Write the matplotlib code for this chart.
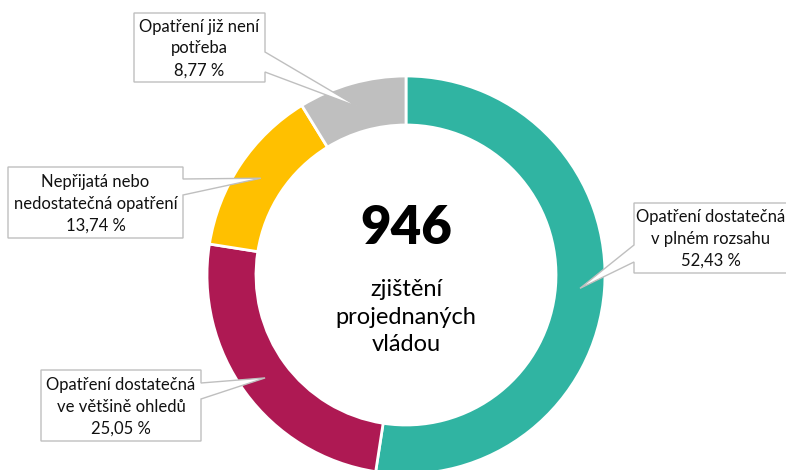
#!/usr/bin/env python3
"""Donut chart: stav opatření ke zjištěním projednaným vládou."""

import numpy as np
import matplotlib

matplotlib.use("Agg")
import matplotlib.pyplot as plt
from matplotlib.patches import Polygon

plt.rcParams["font.family"] = ["Lato", "DejaVu Sans"]

TOTAL = 946
CENTER_LINES = ["zjištění", "projednaných", "vládou"]

labels = [
    "Opatření dostatečná\nv plném rozsahu",
    "Opatření dostatečná\nve většině ohledů",
    "Nepřijatá nebo\nnedostatečná opatření",
    "Opatření již není\npotřeba",
]
shares = [52.43, 25.05, 13.74, 8.77]
colors = ["#30B4A2", "#AE1953", "#FFC000", "#BFBFBF"]

W, H = 786, 470
CX, CY = 406, 275          # pixel coords (y down)
R_OUT, RING = 199, 49

# callout boxes in pixel coords: (x0, y0, x1, y1), side with pointer, pointer base
boxes = [
    ((634, 203, 789, 273), "left", (245, 262)),
    ((41, 370, 201, 441), "right", (383, 399)),
    ((8, 167, 183, 238), "right", (179, 195)),
    ((134, 13, 265, 82), "right", (52, 72)),
]


def py(y):
    return H - y


def callout(ax, box, side, base, tip):
    x0, y0, x1, y1 = box
    b1, b2 = base
    if side == "right":
        pts = [(x0, y0), (x1, y0), (x1, b1), tip, (x1, b2), (x1, y1), (x0, y1)]
    else:
        pts = [(x0, y0), (x1, y0), (x1, y1), (x0, y1), (x0, b2), tip, (x0, b1)]
    pts = [(x, py(y)) for x, y in pts]
    ax.add_patch(Polygon(pts, closed=True, facecolor="white", edgecolor="#BFBFBF",
                         linewidth=1.0, zorder=3))


def main():
    fig = plt.figure(figsize=(W / 100, H / 100), dpi=100)
    ax = fig.add_axes([0, 0, 1, 1])

    wedges, _ = ax.pie(shares, colors=colors, startangle=90, counterclock=False,
                       center=(CX, py(CY)), radius=R_OUT,
                       wedgeprops=dict(width=RING, edgecolor="white", linewidth=2))
    ax.set_xlim(0, W)
    ax.set_ylim(0, H)
    ax.set_aspect("auto")
    ax.axis("off")

    r_mid = R_OUT - RING / 2
    for w, lab, val, (box, side, base) in zip(wedges, labels, shares, boxes):
        ang = np.deg2rad((w.theta1 + w.theta2) / 2)
        tip = (CX + r_mid * np.cos(ang), CY - r_mid * np.sin(ang))
        callout(ax, box, side, base, tip)
        x0, y0, x1, y1 = box
        txt = lab + "\n" + f"{val:.2f}".replace(".", ",") + " %"
        xc = (x0 + x1) / 2 if x1 < W else x0 + 77
        ax.text(xc, py((y0 + y1) / 2 + 1), txt, ha="center", va="center",
                fontsize=12, linespacing=1.45, color="#111111", zorder=4)

    ax.text(CX, py(228), str(TOTAL), ha="center", va="center",
            fontsize=38, fontweight="heavy", color="black")
    ax.text(CX, py(317), "\n".join(CENTER_LINES), ha="center", va="center",
            fontsize=17, linespacing=1.38, color="black")

    fig.savefig("out.png", dpi=100)
    plt.close(fig)


if __name__ == "__main__":
    main()
